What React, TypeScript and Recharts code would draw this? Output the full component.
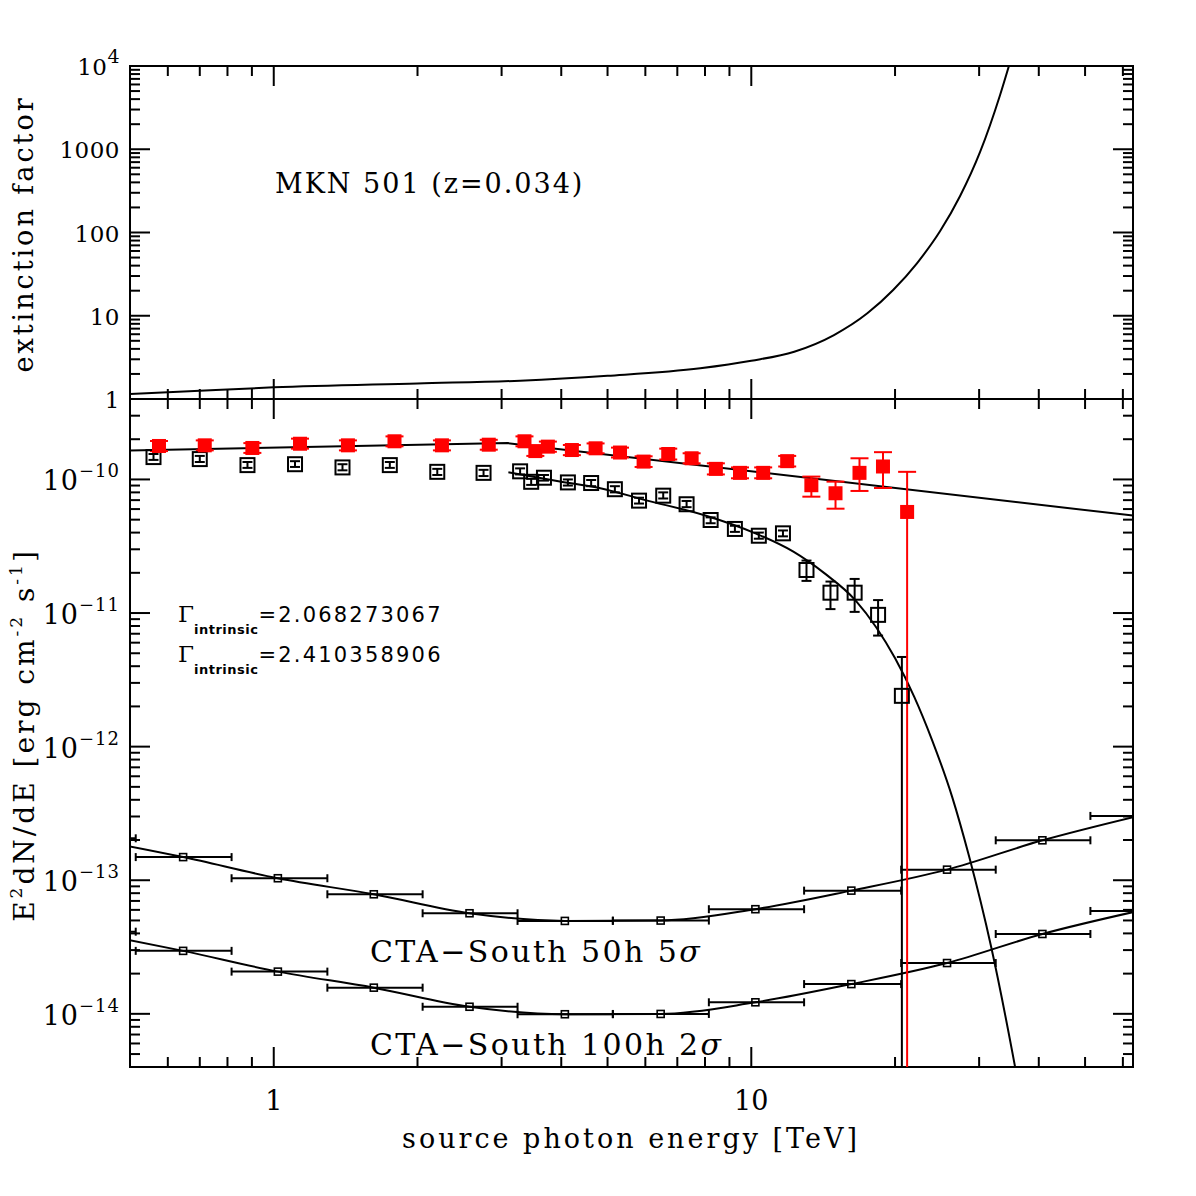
import React from 'react';
import { ComposedChart, Line, Scatter, XAxis, YAxis, ErrorBar, ReferenceArea } from 'recharts';

const SERIF = "'DejaVu Serif', serif";
const SANS = "'DejaVu Sans', sans-serif";
const INK = '#000000';
const RED = '#ff0000';

// ---------- axes (energies in TeV) ----------
const X_DOMAIN: [number, number] = [0.5, 63];
const X_TICKS = [0.6, 0.7, 0.8, 0.9, 1, 2, 3, 4, 5, 6, 7, 8, 9, 10, 20, 30, 40, 50, 60];
const X_MAJOR = [1, 10];
const X_LABELS = ['1', '10'];

const EXT_DOMAIN: [number, number] = [1, 1e4];
const EXT_MAJOR = [1, 10, 100, 1000, 10000];
const EXT_MANT = ['1', '10', '100', '1000', '10'];
const EXT_EXP = ['', '', '', '', '4'];

const SED_DOMAIN: [number, number] = [4e-15, 4e-10];
const SED_MAJOR = [1e-14, 1e-13, 1e-12, 1e-11, 1e-10];
const SED_MANT = ['10', '10', '10', '10', '10'];
const SED_EXP = ['\u221214', '\u221213', '\u221212', '\u221211', '\u221210'];

const MANTISSAS = [1, 2, 3, 4, 5, 6, 7, 8, 9];
function logTicks(fromExp: number, toExp: number, lo: number, hi: number) {
  const out: number[] = [];
  for (let e = fromExp; e <= toExp; e++) {
    for (const m of MANTISSAS) {
      const v = m * Math.pow(10, e);
      if (v >= lo * 0.999 && v <= hi * 1.001) out.push(v);
    }
  }
  return out;
}
const EXT_TICKS = logTicks(0, 4, 1, 1e4);
const SED_TICKS = logTicks(-15, -10, 5e-15, 3e-10);

// ---------- extinction factor along the line of sight ----------
const EXT_E = [0.5, 0.7, 1.0, 2.0, 3.28, 5.0, 7.82, 10.0, 12.3, 14.9, 17.5, 19.82, 22.25, 24.86, 27.37, 30.14, 33.19, 34.83, 36.5];
const EXT_FACTOR = [1.15, 1.26, 1.38, 1.54, 1.66, 1.9, 2.34, 2.88, 3.7, 5.87, 10.7, 20.4, 43.0, 104, 274, 927, 4485, 11170, 28000];

// ---------- de-absorbed (intrinsic) spectral points, red ----------
const SRC_E = [0.575, 0.717, 0.902, 1.135, 1.43, 1.79, 2.25, 2.82, 3.35, 3.53, 3.75, 4.21, 4.72, 5.31, 5.95, 6.7, 7.5, 8.43, 9.47, 10.59, 11.89, 13.36, 15.01, 16.85, 18.87, 21.2];
const SRC_F = [1.78e-10, 1.8e-10, 1.72e-10, 1.85e-10, 1.8e-10, 1.93e-10, 1.8e-10, 1.82e-10, 1.93e-10, 1.63e-10, 1.76e-10, 1.66e-10, 1.71e-10, 1.59e-10, 1.36e-10, 1.55e-10, 1.44e-10, 1.2e-10, 1.12e-10, 1.12e-10, 1.37e-10, 9.05e-11, 7.88e-11, 1.12e-10, 1.25e-10, 5.71e-11];
const SRC_LO = [1.63e-10, 1.65e-10, 1.58e-10, 1.7e-10, 1.65e-10, 1.77e-10, 1.65e-10, 1.67e-10, 1.77e-10, 1.5e-10, 1.61e-10, 1.52e-10, 1.57e-10, 1.46e-10, 1.24e-10, 1.41e-10, 1.32e-10, 1.09e-10, 1.02e-10, 1.02e-10, 1.25e-10, 7.43e-11, 6.04e-11, 8.2e-11, 8.63e-11, 1e-16];
const SRC_HI = [1.94e-10, 1.96e-10, 1.87e-10, 2.02e-10, 1.96e-10, 2.1e-10, 1.96e-10, 1.98e-10, 2.1e-10, 1.78e-10, 1.92e-10, 1.81e-10, 1.86e-10, 1.73e-10, 1.49e-10, 1.7e-10, 1.57e-10, 1.32e-10, 1.23e-10, 1.23e-10, 1.5e-10, 1.05e-10, 9.63e-11, 1.44e-10, 1.6e-10, 1.14e-10];

// ---------- observed spectral points, open black ----------
const OBS_E = [0.56, 0.7, 0.881, 1.108, 1.393, 1.75, 2.2, 2.75, 3.28, 3.46, 3.68, 4.13, 4.62, 5.18, 5.82, 6.54, 7.32, 8.22, 9.24, 10.37, 11.65, 13.05, 14.65, 16.46, 18.43, 20.67];
const OBS_F = [1.47e-10, 1.42e-10, 1.28e-10, 1.3e-10, 1.23e-10, 1.28e-10, 1.14e-10, 1.12e-10, 1.15e-10, 9.6e-11, 1.03e-10, 9.5e-11, 9.4e-11, 8.45e-11, 6.94e-11, 7.56e-11, 6.52e-11, 4.97e-11, 4.26e-11, 3.79e-11, 3.95e-11, 2.1e-11, 1.42e-11, 1.42e-11, 9.69e-12, 2.4e-12];
const OBS_LO = [1.4e-10, 1.35e-10, 1.22e-10, 1.24e-10, 1.17e-10, 1.22e-10, 1.08e-10, 1.06e-10, 1.09e-10, 9.1e-11, 9.8e-11, 9.0e-11, 8.9e-11, 8.0e-11, 6.6e-11, 7.2e-11, 6.2e-11, 4.7e-11, 4.05e-11, 3.6e-11, 3.75e-11, 1.74e-11, 1.07e-11, 1.02e-11, 6.78e-12, 1e-16];
const OBS_HI = [1.55e-10, 1.5e-10, 1.35e-10, 1.37e-10, 1.3e-10, 1.35e-10, 1.2e-10, 1.18e-10, 1.21e-10, 1.01e-10, 1.08e-10, 1.0e-10, 9.9e-11, 8.9e-11, 7.3e-11, 8.0e-11, 6.9e-11, 5.2e-11, 4.5e-11, 4.0e-11, 4.15e-11, 2.47e-11, 1.72e-11, 1.8e-11, 1.25e-11, 4.69e-12];

// ---------- model curves ----------
const FIT_SRC_E = [0.5, 3.09, 63];
const FIT_SRC_F = [1.65e-10, 1.87e-10, 5.36e-11];
const FIT_OBS_E = [3.1, 4.0, 4.83, 6.0, 7.95, 10.2, 12.25, 14.22, 16.51, 18.26, 20.02, 21.93, 23.91, 26.34, 28.58, 31.78, 35.67, 38.3];
const FIT_OBS_F = [1.13e-10, 9.6e-11, 8.6e-11, 7.0e-11, 5.42e-11, 3.95e-11, 2.88e-11, 1.99e-11, 1.25e-11, 7.83e-12, 4.56e-12, 2.37e-12, 1.12e-12, 4.21e-13, 1.51e-13, 3.19e-14, 4.03e-15, 9.8e-16];

// ---------- CTA-South differential sensitivity ----------
const CTA_E = [0.407, 0.646, 1.02, 1.62, 2.57, 4.07, 6.46, 10.2, 16.2, 25.7, 40.7, 64.6];
const CTA_E_LO = [0.324, 0.514, 0.816, 1.295, 2.05, 3.24, 5.13, 8.15, 12.9, 20.6, 32.5, 51.3];
const CTA_E_HI = [0.514, 0.816, 1.295, 2.05, 3.24, 5.13, 8.15, 12.9, 20.6, 32.5, 51.3, 81.3];
const CTA_50H = [2.06e-13, 1.49e-13, 1.035e-13, 7.85e-14, 5.66e-14, 4.96e-14, 4.99e-14, 6.07e-14, 8.36e-14, 1.2e-13, 1.99e-13, 3.03e-13];
const CTA_100H = [4.12e-14, 2.96e-14, 2.07e-14, 1.57e-14, 1.13e-14, 9.93e-15, 9.98e-15, 1.22e-14, 1.67e-14, 2.4e-14, 3.96e-14, 5.89e-14];

// ---------- tables for the series ----------
const extRows = EXT_E.map((x, i) => ({ x, y: EXT_FACTOR[i] }));
const srcRows = SRC_E.map((x, i) => ({ x, y: SRC_F[i], err: [SRC_F[i] - SRC_LO[i], SRC_HI[i] - SRC_F[i]] }));
const obsRows = OBS_E.map((x, i) => ({ x, y: OBS_F[i], err: [OBS_F[i] - OBS_LO[i], OBS_HI[i] - OBS_F[i]] }));
const fitSrcRows = FIT_SRC_E.map((x, i) => ({ x, y: FIT_SRC_F[i] }));
const fitObsRows = FIT_OBS_E.map((x, i) => ({ x, y: FIT_OBS_F[i] }));
const cta50Rows = CTA_E.map((x, i) => ({ x, y: CTA_50H[i], err: [x - CTA_E_LO[i], CTA_E_HI[i] - x] }));
const cta100Rows = CTA_E.map((x, i) => ({ x, y: CTA_100H[i], err: [x - CTA_E_LO[i], CTA_E_HI[i] - x] }));

// ---------- layout ----------
const PAGE = 1196;
const PLOT_LEFT = 130;
const PLOT_RIGHT = 1133;
const PLOT_W = PLOT_RIGHT - PLOT_LEFT;
const TOP_Y0 = 66;
const MID_Y = 399;
const BOT_Y1 = 1067;
const TOP_PLOT_H = MID_Y - TOP_Y0;
const BOT_PLOT_H = BOT_Y1 - MID_Y;
const TOP_CHART_H = 420;
const BOT_XAXIS_H = 80;
const BOT_MARGIN = { top: MID_Y, right: PAGE - PLOT_RIGHT, bottom: PAGE - BOT_Y1 - BOT_XAXIS_H, left: 0 };

function findMajor(v: number, list: number[]) {
  return list.findIndex((m) => Math.abs(Math.log10(v) - Math.log10(m)) < 1e-6);
}

// Inward ticks on bottom and top edges; labels only under the lower panel.
function makeXTick(plotH: number, withLabels: boolean) {
  return (props: any) => {
    const { x, y, payload } = props;
    const idx = findMajor(payload.value, X_MAJOR);
    const len = idx >= 0 ? 20 : 10;
    return (
      <g>
        <line x1={x} y1={y} x2={x} y2={y - len} stroke={INK} strokeWidth={2} />
        <line x1={x} y1={y - plotH} x2={x} y2={y - plotH + len} stroke={INK} strokeWidth={2} />
        {withLabels && idx >= 0 && (
          <text x={x} y={y + 43} textAnchor="middle" fontFamily={SERIF} fontSize={27} fill={INK}>
            {X_LABELS[idx]}
          </text>
        )}
      </g>
    );
  };
}

// Inward ticks on left and right edges with decade labels on the left.
function makeYTick(majors: number[], mant: string[], exps: string[], size: number, supSize: number, baseDy: number, rise: number, spacing: number) {
  return (props: any) => {
    const { x, y, payload } = props;
    const idx = findMajor(payload.value, majors);
    const len = idx >= 0 ? 20 : 10;
    return (
      <g>
        <line x1={x} y1={y} x2={x + len} y2={y} stroke={INK} strokeWidth={2} />
        <line x1={x + PLOT_W} y1={y} x2={x + PLOT_W - len} y2={y} stroke={INK} strokeWidth={2} />
        {idx >= 0 && (
          <text x={x - 10} y={y + baseDy} textAnchor="end" fontFamily={SERIF} fontSize={size} fill={INK} letterSpacing={spacing}>
            {mant[idx]}
            {exps[idx] ? (
              <tspan fontSize={supSize} dy={-rise}>
                {exps[idx]}
              </tspan>
            ) : null}
          </text>
        )}
      </g>
    );
  };
}

const topXTick = makeXTick(TOP_PLOT_H, false);
const botXTick = makeXTick(BOT_PLOT_H, true);
const topYTick = makeYTick(EXT_MAJOR, EXT_MANT, EXT_EXP, 23, 19, 9, 12, 0.5);
const botYTick = makeYTick(SED_MAJOR, SED_MANT, SED_EXP, 27, 18, 11, 13, 1);

const redSquare = (p: any) => <rect x={p.cx - 7} y={p.cy - 7} width={14} height={14} fill={RED} />;
const openSquare = (p: any) => <rect x={p.cx - 7} y={p.cy - 7} width={14} height={14} fill="none" stroke={INK} strokeWidth={2} />;
const smallSquare = (p: any) => <rect x={p.cx - 3.5} y={p.cy - 3.5} width={7} height={7} fill="none" stroke={INK} strokeWidth={1.6} />;

export default function App() {
  const plotClip = `inset(${MID_Y}px ${PAGE - PLOT_RIGHT}px ${PAGE - BOT_Y1}px ${PLOT_LEFT}px)`;
  return (
    <div style={{ position: 'absolute', left: 0, top: 0, width: PAGE, height: PAGE, background: '#ffffff' }}>
      {/* upper panel: extinction factor */}
      <div style={{ position: 'absolute', left: 0, top: 0 }}>
        <ComposedChart width={PAGE} height={TOP_CHART_H} margin={{ top: TOP_Y0, right: PAGE - PLOT_RIGHT, bottom: TOP_CHART_H - MID_Y - 1, left: 0 }}>
          <XAxis dataKey="x" type="number" scale="log" domain={X_DOMAIN} allowDataOverflow ticks={X_TICKS} interval={0} height={1} tickSize={0} tickMargin={0} tickLine={false} axisLine={false} tick={topXTick} />
          <YAxis dataKey="y" type="number" scale="log" domain={EXT_DOMAIN} allowDataOverflow ticks={EXT_TICKS} interval={0} width={PLOT_LEFT} tickSize={0} tickMargin={0} tickLine={false} axisLine={false} tick={topYTick} />
          <ReferenceArea x1={X_DOMAIN[0]} x2={X_DOMAIN[1]} y1={EXT_DOMAIN[0]} y2={EXT_DOMAIN[1]} fill="none" fillOpacity={0} stroke={INK} strokeWidth={2} ifOverflow="visible" />
          <Line data={extRows} dataKey="y" type="monotone" stroke={INK} strokeWidth={2} dot={false} isAnimationActive={false} />
        </ComposedChart>
      </div>

      {/* lower panel: axes, frame and model curves */}
      <div style={{ position: 'absolute', left: 0, top: 0 }}>
        <ComposedChart width={PAGE} height={PAGE} margin={BOT_MARGIN}>
          <XAxis dataKey="x" type="number" scale="log" domain={X_DOMAIN} allowDataOverflow ticks={X_TICKS} interval={0} height={BOT_XAXIS_H} tickSize={0} tickMargin={0} tickLine={false} axisLine={false} tick={botXTick} />
          <YAxis dataKey="y" type="number" scale="log" domain={SED_DOMAIN} allowDataOverflow ticks={SED_TICKS} interval={0} width={PLOT_LEFT} tickSize={0} tickMargin={0} tickLine={false} axisLine={false} tick={botYTick} />
          <ReferenceArea x1={X_DOMAIN[0]} x2={X_DOMAIN[1]} y1={SED_DOMAIN[0]} y2={SED_DOMAIN[1]} fill="none" fillOpacity={0} stroke={INK} strokeWidth={2} ifOverflow="visible" />
          <Line data={fitSrcRows} dataKey="y" type="linear" stroke={INK} strokeWidth={2} dot={false} isAnimationActive={false} />
          <Line data={fitObsRows} dataKey="y" type="monotone" stroke={INK} strokeWidth={2} dot={false} isAnimationActive={false} />
          <Line data={cta50Rows} dataKey="y" type="monotone" stroke={INK} strokeWidth={2} dot={false} isAnimationActive={false} />
          <Line data={cta100Rows} dataKey="y" type="monotone" stroke={INK} strokeWidth={2} dot={false} isAnimationActive={false} />
        </ComposedChart>
      </div>

      {/* lower panel: measured points and sensitivity bins, clipped to the plot box */}
      <div style={{ position: 'absolute', left: 0, top: 0, clipPath: plotClip }}>
        <ComposedChart width={PAGE} height={PAGE} margin={BOT_MARGIN}>
          <XAxis dataKey="x" type="number" scale="log" domain={X_DOMAIN} allowDataOverflow height={BOT_XAXIS_H} tick={false} tickLine={false} axisLine={false} />
          <YAxis dataKey="y" type="number" scale="log" domain={SED_DOMAIN} allowDataOverflow width={PLOT_LEFT} tick={false} tickLine={false} axisLine={false} />
          <Scatter data={cta50Rows} dataKey="y" shape={smallSquare} isAnimationActive={false}>
            <ErrorBar dataKey="err" direction="x" width={4} stroke={INK} strokeWidth={2} />
          </Scatter>
          <Scatter data={cta100Rows} dataKey="y" shape={smallSquare} isAnimationActive={false}>
            <ErrorBar dataKey="err" direction="x" width={4} stroke={INK} strokeWidth={2} />
          </Scatter>
          <Scatter data={obsRows} dataKey="y" shape={openSquare} isAnimationActive={false}>
            <ErrorBar dataKey="err" direction="y" width={5} stroke={INK} strokeWidth={2} />
          </Scatter>
          <Scatter data={srcRows} dataKey="y" shape={redSquare} isAnimationActive={false}>
            <ErrorBar dataKey="err" direction="y" width={9} stroke={RED} strokeWidth={2} />
          </Scatter>
        </ComposedChart>
      </div>

      {/* titles and annotations */}
      <svg width={PAGE} height={PAGE} style={{ position: 'absolute', left: 0, top: 0, pointerEvents: 'none' }}>
        <text transform="translate(33,234) rotate(-90)" textAnchor="middle" fontFamily={SERIF} fontSize={27} letterSpacing={3} fill={INK}>
          extinction factor
        </text>
        <text transform="translate(34,735) rotate(-90)" textAnchor="middle" fontFamily={SERIF} fontSize={28} letterSpacing={3} fill={INK}>
          E<tspan fontSize={17} dy={-12}>2</tspan>
          <tspan dy={12}>dN/dE [erg cm</tspan>
          <tspan fontSize={17} dy={-12}>-2</tspan>
          <tspan dy={12}> s</tspan>
          <tspan fontSize={17} dy={-12}>-1</tspan>
          <tspan dy={12}>]</tspan>
        </text>
        <text x={631} y={1148} textAnchor="middle" fontFamily={SERIF} fontSize={27} letterSpacing={3} fill={INK}>
          source photon energy [TeV]
        </text>
        <text x={275} y={193} fontFamily={SERIF} fontSize={27} letterSpacing={2} fill={INK}>
          MKN 501 (z=0.034)
        </text>

        <text x={178} y={622} fontFamily={SANS} fill={INK}>
          <tspan fontFamily={SERIF} fontSize={23}>Γ</tspan>
          <tspan fontSize={13} fontWeight="bold" dy={12} letterSpacing={0.5}>intrinsic</tspan>
          <tspan fontSize={21} dy={-12} letterSpacing={2.2}>=2.068273067</tspan>
        </text>
        <text x={178} y={662} fontFamily={SANS} fill={INK}>
          <tspan fontFamily={SERIF} fontSize={23}>Γ</tspan>
          <tspan fontSize={13} fontWeight="bold" dy={12} letterSpacing={0.5}>intrinsic</tspan>
          <tspan fontSize={21} dy={-12} letterSpacing={2.2}>=2.410358906</tspan>
        </text>

        <text x={370} y={962} fontFamily={SERIF} fontSize={30} letterSpacing={2.4} fill={INK}>
          CTA{'\u2212'}South 50h 5<tspan fontStyle="italic">σ</tspan>
        </text>
        <text x={370} y={1055} fontFamily={SERIF} fontSize={30} letterSpacing={2.4} fill={INK}>
          CTA{'\u2212'}South 100h 2<tspan fontStyle="italic">σ</tspan>
        </text>
      </svg>
    </div>
  );
}
